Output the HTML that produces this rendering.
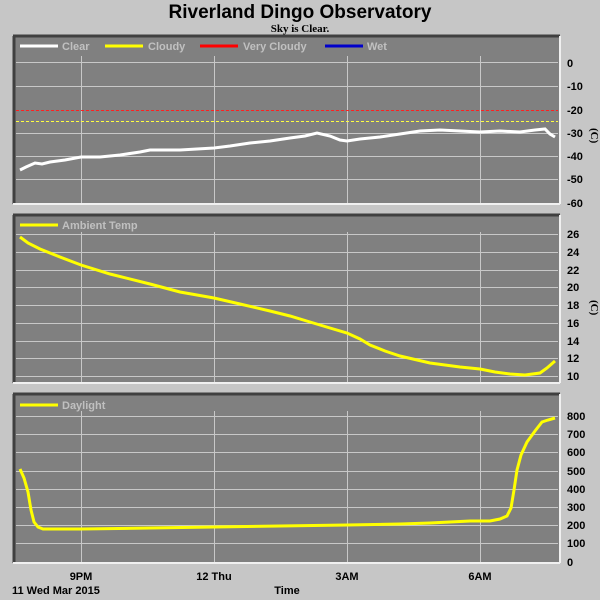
<!DOCTYPE html>
<html><head><meta charset="utf-8"><style>
body{margin:0;background:#c6c6c6;}
svg{display:block}
text{font-family:"Liberation Sans",sans-serif;font-weight:bold;}
</style></head><body>
<svg width="600" height="600" viewBox="0 0 600 600" xmlns="http://www.w3.org/2000/svg">
<rect width="600" height="600" fill="#c6c6c6"/>
<text x="300" y="18" font-size="19" text-anchor="middle" fill="#000">Riverland Dingo Observatory</text>
<text x="300" y="32" font-size="11" text-anchor="middle" fill="#000" style="font-family:'Liberation Serif',serif">Sky is Clear.</text>

<!-- panels -->
<g id="p1">
<rect x="13" y="36" width="547" height="168" fill="#808080"/>
<line x1="13" y1="36" x2="560" y2="36" stroke="#404040" stroke-width="3"/>
<line x1="14" y1="36" x2="14" y2="204" stroke="#404040" stroke-width="3"/>
<line x1="13" y1="204" x2="560" y2="204" stroke="#f0f0f0" stroke-width="2"/>
<line x1="560" y1="36" x2="560" y2="204" stroke="#f0f0f0" stroke-width="2"/>
<g stroke="#c8c8c8" stroke-width="1">
<line x1="16" y1="62.5" x2="558" y2="62.5"/><line x1="16" y1="86.5" x2="558" y2="86.5"/>
<line x1="16" y1="133.5" x2="558" y2="133.5"/><line x1="16" y1="156.5" x2="558" y2="156.5"/>
<line x1="16" y1="179.5" x2="558" y2="179.5"/>
<line x1="81.5" y1="56" x2="81.5" y2="203"/><line x1="214.5" y1="56" x2="214.5" y2="203"/>
<line x1="347.5" y1="56" x2="347.5" y2="203"/><line x1="480.5" y1="56" x2="480.5" y2="203"/>
</g>
<line x1="16" y1="110.5" x2="558" y2="110.5" stroke="#ff2020" stroke-dasharray="3,2"/>
<line x1="16" y1="121.5" x2="558" y2="121.5" stroke="#ffff40" stroke-dasharray="3,2"/>
<polyline fill="none" stroke="#fff" stroke-width="3" points="20,170 26,167 35,163 42,164 50,162 65,160 81,157 100,157 120,155 140,152 150,150 180,150 214,148 230,146 250,143 270,141 290,138 305,136 317,133 330,136 340,140 347,141 360,139 380,137 400,134 420,131 440,130 460,131 480,132 500,131 520,132 535,130 545,129 550,134 555,137"/>
<g font-size="11" fill="#c0c0c0">
<line x1="20" y1="46" x2="58" y2="46" stroke="#fff" stroke-width="3"/><text x="62" y="50">Clear</text>
<line x1="105" y1="46" x2="143" y2="46" stroke="#ff0" stroke-width="3"/><text x="148" y="50">Cloudy</text>
<line x1="200" y1="46" x2="238" y2="46" stroke="#f00" stroke-width="3"/><text x="243" y="50">Very Cloudy</text>
<line x1="325" y1="46" x2="363" y2="46" stroke="#00c" stroke-width="3"/><text x="367" y="50">Wet</text>
</g>
<g font-size="11" fill="#000" style="font-family:'Liberation Serif',serif">
<text x="567" y="67">0</text><text x="567" y="90">-10</text><text x="567" y="114">-20</text>
<text x="567" y="137">-30</text><text x="567" y="160">-40</text><text x="567" y="183">-50</text><text x="567" y="207">-60</text>
</g>
<text x="591" y="128" font-size="11" transform="rotate(90 591 128)" style="font-family:'Liberation Serif',serif">(C)</text>
</g>

<g id="p2">
<rect x="13" y="215" width="547" height="168" fill="#808080"/>
<line x1="13" y1="215" x2="560" y2="215" stroke="#404040" stroke-width="3"/>
<line x1="14" y1="215" x2="14" y2="383" stroke="#404040" stroke-width="3"/>
<line x1="13" y1="383" x2="560" y2="383" stroke="#f0f0f0" stroke-width="2"/>
<line x1="560" y1="215" x2="560" y2="383" stroke="#f0f0f0" stroke-width="2"/>
<g stroke="#c8c8c8" stroke-width="1">
<line x1="16" y1="234.5" x2="558" y2="234.5"/><line x1="16" y1="252.5" x2="558" y2="252.5"/>
<line x1="16" y1="270.5" x2="558" y2="270.5"/><line x1="16" y1="287.5" x2="558" y2="287.5"/>
<line x1="16" y1="305.5" x2="558" y2="305.5"/><line x1="16" y1="323.5" x2="558" y2="323.5"/>
<line x1="16" y1="341.5" x2="558" y2="341.5"/><line x1="16" y1="358.5" x2="558" y2="358.5"/>
<line x1="16" y1="376.5" x2="558" y2="376.5"/>
<line x1="81.5" y1="232" x2="81.5" y2="382"/><line x1="214.5" y1="232" x2="214.5" y2="382"/>
<line x1="347.5" y1="232" x2="347.5" y2="382"/><line x1="480.5" y1="232" x2="480.5" y2="382"/>
</g>
<polyline fill="none" stroke="#ff0" stroke-width="3" points="20,237 28,243 40,249 60,257 81,265 110,274 150,284 180,292 214,298 240,304 270,311 290,316 310,322 330,328 347,333 360,339 370,345 385,351 400,356 430,363 460,367 480,369 495,372 510,374 525,375 540,373 547,368 555,361"/>
<line x1="20" y1="225" x2="58" y2="225" stroke="#ff0" stroke-width="3"/><text x="62" y="229" font-size="11" fill="#c0c0c0">Ambient Temp</text>
<g font-size="11" fill="#000" style="font-family:'Liberation Serif',serif">
<text x="567" y="238">26</text><text x="567" y="256">24</text><text x="567" y="274">22</text>
<text x="567" y="291">20</text><text x="567" y="309">18</text><text x="567" y="327">16</text>
<text x="567" y="345">14</text><text x="567" y="362">12</text><text x="567" y="380">10</text>
</g>
<text x="591" y="300" font-size="11" transform="rotate(90 591 300)" style="font-family:'Liberation Serif',serif">(C)</text>
</g>

<g id="p3">
<rect x="13" y="394" width="547" height="169" fill="#808080"/>
<line x1="13" y1="394" x2="560" y2="394" stroke="#404040" stroke-width="3"/>
<line x1="14" y1="394" x2="14" y2="563" stroke="#404040" stroke-width="3"/>
<line x1="13" y1="563" x2="560" y2="563" stroke="#f0f0f0" stroke-width="2"/>
<line x1="560" y1="394" x2="560" y2="563" stroke="#f0f0f0" stroke-width="2"/>
<g stroke="#c8c8c8" stroke-width="1">
<line x1="16" y1="416.5" x2="558" y2="416.5"/><line x1="16" y1="434.5" x2="558" y2="434.5"/>
<line x1="16" y1="452.5" x2="558" y2="452.5"/><line x1="16" y1="471.5" x2="558" y2="471.5"/>
<line x1="16" y1="489.5" x2="558" y2="489.5"/><line x1="16" y1="507.5" x2="558" y2="507.5"/>
<line x1="16" y1="525.5" x2="558" y2="525.5"/><line x1="16" y1="543.5" x2="558" y2="543.5"/>
<line x1="81.5" y1="411" x2="81.5" y2="562"/><line x1="214.5" y1="411" x2="214.5" y2="562"/>
<line x1="347.5" y1="411" x2="347.5" y2="562"/><line x1="480.5" y1="411" x2="480.5" y2="562"/>
</g>
<polyline fill="none" stroke="#ff0" stroke-width="3" points="20,469 24,478 28,492 31,510 34,522 38,527 43,529 81,529 150,528 214,527 280,526 347,525 400,524 430,523 450,522 470,521 490,521 500,519 507,516 511,508 514,490 517,470 521,455 527,442 535,431 542,422 548,420 555,418"/>
<line x1="20" y1="405" x2="58" y2="405" stroke="#ff0" stroke-width="3"/><text x="62" y="409" font-size="11" fill="#c0c0c0">Daylight</text>
<g font-size="11" fill="#000" style="font-family:'Liberation Serif',serif">
<text x="567" y="420">800</text><text x="567" y="438">700</text><text x="567" y="456">600</text>
<text x="567" y="475">500</text><text x="567" y="493">400</text><text x="567" y="511">300</text>
<text x="567" y="529">200</text><text x="567" y="547">100</text><text x="567" y="566">0</text>
</g>
</g>

<g font-size="11" fill="#000">
<text x="81" y="580" text-anchor="middle">9PM</text>
<text x="214" y="580" text-anchor="middle">12 Thu</text>
<text x="347" y="580" text-anchor="middle">3AM</text>
<text x="480" y="580" text-anchor="middle">6AM</text>
<text x="12" y="594">11 Wed Mar 2015</text>
<text x="287" y="594" text-anchor="middle">Time</text>
</g>
</svg>
</body></html>
